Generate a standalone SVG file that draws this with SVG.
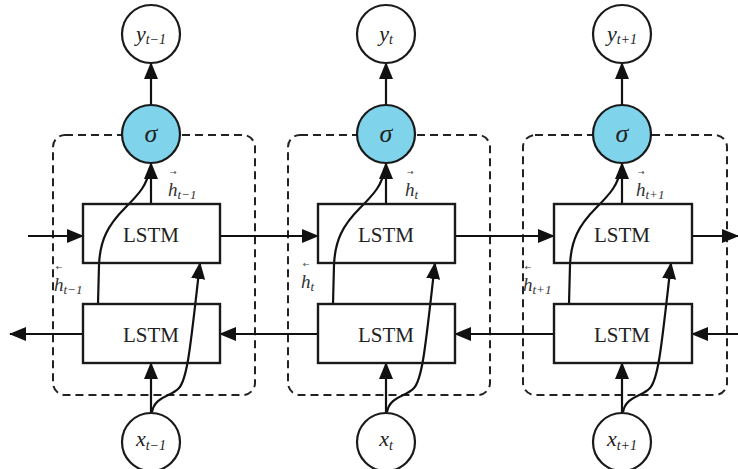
<svg xmlns="http://www.w3.org/2000/svg" width="738" height="469" viewBox="0 0 738 469">
<style>
.n{fill:#fff;stroke:#1a1a1a;stroke-width:2.2}
.s{fill:#7fd4ec;stroke:#1a1a1a;stroke-width:2.2}
.box{fill:none;stroke:#1a1a1a;stroke-width:2.4}
.dash{fill:none;stroke:#222;stroke-width:2;stroke-dasharray:8 5}
.c{fill:none;stroke:#111;stroke-width:2.2}
.t{font-family:"Liberation Serif","DejaVu Serif",serif;fill:#222}
.i{font-style:italic}
.lab{font-family:"Liberation Serif","DejaVu Serif",serif;font-style:italic;fill:#333;font-size:19px}
.acc{font-family:"DejaVu Sans",sans-serif;fill:#444;font-size:8px}
</style>
<defs>
<marker id="a" markerUnits="userSpaceOnUse" markerWidth="17" markerHeight="14" refX="16" refY="7" orient="auto">
<path d="M0,0 L17,7 L0,14 z" fill="#111"/>
</marker>
</defs>

<g id="frames">
<rect class="dash" x="53" y="135" width="202" height="260" rx="12"/>
<rect class="dash" x="288" y="135" width="202" height="260" rx="12"/>
<rect class="dash" x="523" y="135" width="204" height="260" rx="12"/>
</g>

<g id="connectors">
<line class="c" x1="28" y1="236" x2="83" y2="236" marker-end="url(#a)"/>
<line class="c" x1="220" y1="236" x2="318" y2="236" marker-end="url(#a)"/>
<line class="c" x1="455" y1="236" x2="554" y2="236" marker-end="url(#a)"/>
<line class="c" x1="692" y1="236" x2="738" y2="236" marker-end="url(#a)"/>
<line class="c" x1="83" y1="334" x2="10" y2="334" marker-end="url(#a)"/>
<line class="c" x1="318" y1="334" x2="220" y2="334" marker-end="url(#a)"/>
<line class="c" x1="554" y1="334" x2="455" y2="334" marker-end="url(#a)"/>
<line class="c" x1="738" y1="334" x2="692" y2="334" marker-end="url(#a)"/>
<line class="c" x1="151" y1="105" x2="151" y2="63" marker-end="url(#a)"/>
<line class="c" x1="151" y1="204" x2="151" y2="163" marker-end="url(#a)"/>
<path class="c" d="M98,304 L99,265 C100,240 108,225 125,208 C140,193 147,185 150,168"/>
<line class="c" x1="151" y1="413" x2="151" y2="363" marker-end="url(#a)"/>
<path class="c" d="M152,412 C155,396 171,397 179,388 C188,378 191,340 200,263" marker-end="url(#a)"/>
<line class="c" x1="386" y1="105" x2="386" y2="63" marker-end="url(#a)"/>
<line class="c" x1="386" y1="204" x2="386" y2="163" marker-end="url(#a)"/>
<path class="c" d="M333,304 L334,265 C335,240 343,225 360,208 C375,193 382,185 385,168"/>
<line class="c" x1="386" y1="413" x2="386" y2="363" marker-end="url(#a)"/>
<path class="c" d="M387,412 C390,396 406,397 414,388 C423,378 426,340 435,263" marker-end="url(#a)"/>
<line class="c" x1="622" y1="105" x2="622" y2="63" marker-end="url(#a)"/>
<line class="c" x1="622" y1="204" x2="622" y2="163" marker-end="url(#a)"/>
<path class="c" d="M569,304 L570,265 C571,240 579,225 596,208 C611,193 618,185 621,168"/>
<line class="c" x1="622" y1="413" x2="622" y2="363" marker-end="url(#a)"/>
<path class="c" d="M623,412 C626,396 642,397 650,388 C659,378 662,340 671,263" marker-end="url(#a)"/>
</g>

<g id="y1"><circle class="n" cx="151" cy="34" r="29"/><text class="t i" x="151" y="41" font-size="22" text-anchor="middle">y<tspan font-size="14" dy="3">t−1</tspan></text></g>
<g id="y2"><circle class="n" cx="386" cy="34" r="29"/><text class="t i" x="386" y="41" font-size="22" text-anchor="middle">y<tspan font-size="14" dy="3">t</tspan></text></g>
<g id="y3"><circle class="n" cx="622" cy="34" r="29"/><text class="t i" x="622" y="41" font-size="22" text-anchor="middle">y<tspan font-size="14" dy="3">t+1</tspan></text></g>

<g id="s1"><circle class="s" cx="151" cy="134" r="29"/><text class="t i" x="151" y="142" font-size="26" text-anchor="middle">σ</text></g>
<g id="s2"><circle class="s" cx="386" cy="134" r="29"/><text class="t i" x="386" y="142" font-size="26" text-anchor="middle">σ</text></g>
<g id="s3"><circle class="s" cx="622" cy="134" r="29"/><text class="t i" x="622" y="142" font-size="26" text-anchor="middle">σ</text></g>

<g id="f1"><rect class="box" x="83" y="204" width="137" height="59"/><text class="t" x="151" y="242" font-size="21" text-anchor="middle">LSTM</text></g>
<g id="f2"><rect class="box" x="318" y="204" width="137" height="59"/><text class="t" x="386" y="242" font-size="21" text-anchor="middle">LSTM</text></g>
<g id="f3"><rect class="box" x="554" y="204" width="138" height="59"/><text class="t" x="622" y="242" font-size="21" text-anchor="middle">LSTM</text></g>

<g id="b1"><rect class="box" x="83" y="304" width="137" height="59"/><text class="t" x="151" y="342" font-size="21" text-anchor="middle">LSTM</text></g>
<g id="b2"><rect class="box" x="318" y="304" width="137" height="59"/><text class="t" x="386" y="342" font-size="21" text-anchor="middle">LSTM</text></g>
<g id="b3"><rect class="box" x="554" y="304" width="138" height="59"/><text class="t" x="622" y="342" font-size="21" text-anchor="middle">LSTM</text></g>

<g id="x1"><circle class="n" cx="151" cy="442" r="29"/><text class="t i" x="151" y="446" font-size="22" text-anchor="middle">x<tspan font-size="14" dy="4">t−1</tspan></text></g>
<g id="x2"><circle class="n" cx="386" cy="442" r="29"/><text class="t i" x="386" y="446" font-size="22" text-anchor="middle">x<tspan font-size="14" dy="4">t</tspan></text></g>
<g id="x3"><circle class="n" cx="622" cy="442" r="29"/><text class="t i" x="622" y="446" font-size="22" text-anchor="middle">x<tspan font-size="14" dy="4">t+1</tspan></text></g>

<g id="labels">
<text class="lab" x="168" y="196">h<tspan font-size="13" dy="3">t−1</tspan></text>
<text class="acc" x="170" y="175">→</text>
<text class="lab" x="405" y="196">h<tspan font-size="13" dy="3">t</tspan></text>
<text class="acc" x="407" y="175">→</text>
<text class="lab" x="636" y="196">h<tspan font-size="13" dy="3">t+1</tspan></text>
<text class="acc" x="638" y="175">→</text>
<text class="lab" x="54" y="291">h<tspan font-size="13" dy="3">t−1</tspan></text>
<text class="acc" x="56" y="270">←</text>
<text class="lab" x="301" y="288">h<tspan font-size="13" dy="3">t</tspan></text>
<text class="acc" x="303" y="267">←</text>
<text class="lab" x="523" y="291">h<tspan font-size="13" dy="3">t+1</tspan></text>
<text class="acc" x="525" y="270">←</text>
</g>
</svg>
